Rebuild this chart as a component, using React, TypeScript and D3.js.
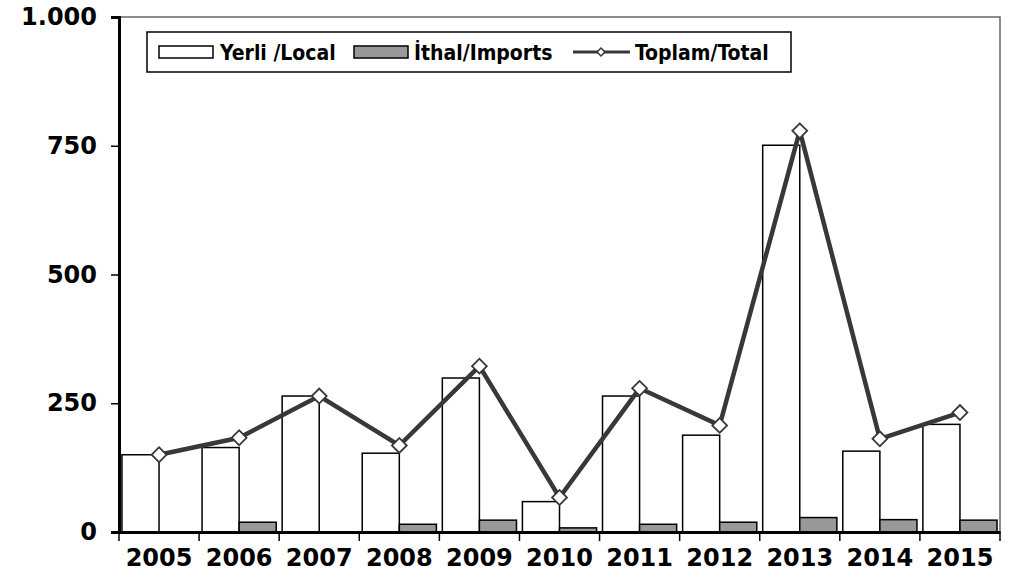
import { useRef, useEffect } from 'react';
import * as d3 from 'd3';

const years = ['2005', '2006', '2007', '2008', '2009', '2010', '2011', '2012', '2013', '2014', '2015'];
const local = [150, 164, 264, 153, 299, 59, 264, 188, 751, 157, 209];
const imports = [0, 19, 0, 15, 23, 8, 15, 19, 28, 24, 23];
const total = [150, 183, 264, 168, 322, 67, 279, 207, 779, 181, 232];
const yTicks = [0, 250, 500, 750, 1000];
const legendLabels = ['Yerli /Local', 'İthal/Imports', 'Toplam/Total'];

const W = 1012;
const H = 585;
const FONT = '"DejaVu Sans", Verdana, sans-serif';
const FONT_C = '"DejaVu Sans Condensed", "DejaVu Sans", sans-serif';

export default function App() {
  const svgRef = useRef<SVGSVGElement | null>(null);

  useEffect(() => {
    if (!svgRef.current) return;
    const svg = d3.select(svgRef.current);
    svg.selectAll('*').remove();

    const margin = { top: 17, right: 12, bottom: 53, left: 119 };
    const x = d3.scaleBand<string>().domain(years).range([margin.left, W - margin.right]);
    const y = d3.scaleLinear().domain([0, 1000]).range([H - margin.bottom, margin.top]);
    const bw = x.bandwidth();
    const barW = bw * 0.463;
    const fmt = d3.formatLocale({ decimal: ',', thousands: '.', grouping: [3], currency: ['', ''] }).format(',');

    // frame (top / right)
    svg.append('path')
      .attr('d', `M${margin.left},${margin.top}H${W - margin.right}V${y(0)}`)
      .attr('fill', 'none')
      .attr('stroke', '#666')
      .attr('stroke-width', 1.5);

    // bars
    const g = svg.append('g');
    g.selectAll('rect.local')
      .data(years)
      .join('rect')
      .attr('class', 'local')
      .attr('x', (d) => x(d)! + bw / 2 - barW)
      .attr('y', (_, i) => y(local[i]))
      .attr('width', barW)
      .attr('height', (_, i) => y(0) - y(local[i]))
      .attr('fill', '#fff')
      .attr('stroke', '#000')
      .attr('stroke-width', 1.5);

    g.selectAll('rect.imp')
      .data(years.filter((_, i) => imports[i] > 0))
      .join('rect')
      .attr('class', 'imp')
      .attr('x', (d) => x(d)! + bw / 2)
      .attr('y', (d) => y(imports[years.indexOf(d)]))
      .attr('width', barW)
      .attr('height', (d) => y(0) - y(imports[years.indexOf(d)]))
      .attr('fill', '#999')
      .attr('stroke', '#000')
      .attr('stroke-width', 1.5);

    // total line
    const line = d3.line<number>()
      .x((_, i) => x(years[i])! + bw / 2)
      .y((d) => y(d));
    svg.append('path')
      .datum(total)
      .attr('d', line)
      .attr('fill', 'none')
      .attr('stroke', '#383838')
      .attr('stroke-width', 4.5)
      .attr('stroke-linejoin', 'miter');

    const diamond = d3.symbol(d3.symbolSquare, 110);
    svg.selectAll('path.mk')
      .data(total)
      .join('path')
      .attr('class', 'mk')
      .attr('d', diamond)
      .attr('transform', (d, i) => `translate(${x(years[i])! + bw / 2},${y(d)}) rotate(45)`)
      .attr('fill', '#fff')
      .attr('stroke', '#383838')
      .attr('stroke-width', 1.8);

    // y axis
    const ya = svg.append('g')
      .attr('transform', `translate(${margin.left},0)`)
      .call(d3.axisLeft(y).tickValues(yTicks).tickFormat((d) => fmt(d as number)).tickSize(8).tickPadding(14));
    ya.select('.domain').attr('stroke', '#000').attr('stroke-width', 3);
    ya.selectAll('.tick line').attr('stroke', '#000').attr('stroke-width', 1.5);
    ya.selectAll('.tick text')
      .attr('font-family', FONT)
      .attr('font-weight', 'bold')
      .attr('font-size', 24)
      .attr('fill', '#000');

    // x axis
    const xa = svg.append('g')
      .attr('transform', `translate(0,${y(0)})`)
      .call(d3.axisBottom(x).tickSize(0).tickPadding(17));
    xa.select('.domain').attr('stroke', '#000').attr('stroke-width', 3);
    xa.selectAll('.tick text')
      .attr('font-family', FONT)
      .attr('font-weight', 'bold')
      .attr('font-size', 24)
      .attr('fill', '#000');
    xa.selectAll('line.sep')
      .data([...years.map((d) => x(d)!), W - margin.right])
      .join('line')
      .attr('class', 'sep')
      .attr('x1', (d) => d)
      .attr('x2', (d) => d)
      .attr('y1', 0)
      .attr('y2', 9)
      .attr('stroke', '#000')
      .attr('stroke-width', 1.5);

    // legend
    const lg = svg.append('g');
    lg.append('rect')
      .attr('x', 147).attr('y', 32).attr('width', 644).attr('height', 40)
      .attr('fill', '#fff').attr('stroke', '#000').attr('stroke-width', 1.5);
    const ly = 52;
    lg.append('rect').attr('x', 159).attr('y', ly - 6).attr('width', 54).attr('height', 12)
      .attr('fill', '#fff').attr('stroke', '#000').attr('stroke-width', 1.5);
    lg.append('rect').attr('x', 354).attr('y', ly - 6).attr('width', 54).attr('height', 12)
      .attr('fill', '#999').attr('stroke', '#000').attr('stroke-width', 1.5);
    lg.append('line').attr('x1', 573).attr('x2', 630).attr('y1', ly).attr('y2', ly)
      .attr('stroke', '#383838').attr('stroke-width', 3);
    lg.append('path').attr('d', d3.symbol(d3.symbolSquare, 32)())
      .attr('transform', `translate(601,${ly}) rotate(45)`)
      .attr('fill', '#fff').attr('stroke', '#383838').attr('stroke-width', 1.5);
    const lx = [220, 414, 635];
    lg.selectAll('text')
      .data(legendLabels)
      .join('text')
      .attr('x', (_, i) => lx[i])
      .attr('y', 60)
      .attr('font-family', FONT_C)
      .attr('font-weight', 'bold')
      .attr('font-size', 21)
      .attr('fill', '#000')
      .text((d) => d);
  }, []);

  return <svg ref={svgRef} width={W} height={H} style={{ position: 'absolute', left: 0, top: 0, background: '#fff' }} />;
}
